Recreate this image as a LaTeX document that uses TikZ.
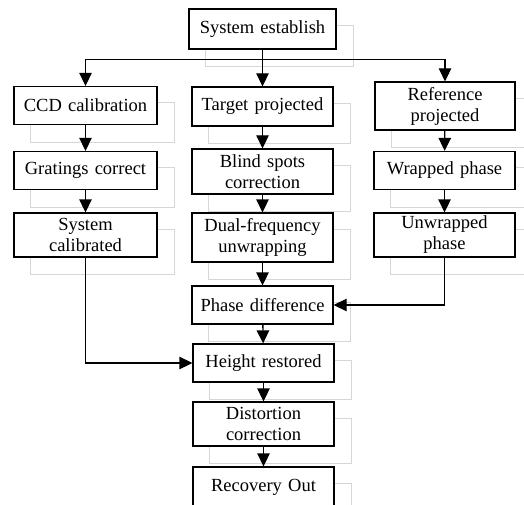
\documentclass[tikz,border=0pt]{standalone}
\usepackage{fontspec}
\setmainfont{Liberation Serif}
\usepackage{tikz}
\usetikzlibrary{positioning,arrows.meta,calc,backgrounds}

\tikzset{stepbox/.style={draw,fill=white,line width=1.3pt,text width=135pt,align=center,
    inner sep=3pt,minimum height=38pt,font=\fontsize{18.5}{21}\selectfont},
  flow/.style={line width=1.3pt,-{Triangle[length=13pt,width=12.5pt]}},
  ghost/.style={draw=black!16,line width=0.7pt}}

\begin{document}
\begin{tikzpicture}[x=1pt,y=-1pt]
\useasboundingbox (0,0) rectangle (524,505);
\clip (0,0) rectangle (524,505);

%top
\node[stepbox,text width=141pt,minimum height=40pt] (sys) at (262.5,29) {System establish};

%left column
\node[stepbox,text width=137pt] (ccd) at (85.5,105.5) {CCD calibration};
\node[stepbox,text width=137pt] (grat) at (85.5,170.5) {Gratings correct};
\node[stepbox,text width=137pt,minimum height=44pt] (syscal) at (85.5,235) {System\\calibrated};

%middle column
\node[stepbox,minimum height=39pt] (tgt) at (262.5,106.5) {Target projected};
\node[stepbox,minimum height=45pt] (blind) at (262.5,171.5) {Blind spots\\correction};
\node[stepbox,minimum height=49pt] (dual) at (262.5,237.5) {Dual-frequency\\unwrapping};
\node[stepbox] (phase) at (262.5,305) {Phase difference};
\node[stepbox] (height) at (263.5,363) {Height restored};
\node[stepbox,minimum height=44pt] (dist) at (263.5,424) {Distortion\\correction};
\node[stepbox,minimum height=40pt] (out) at (263.5,487) {Recovery Out};

%right column
\node[stepbox,text width=134pt,minimum height=48pt] (ref) at (445,106) {Reference\\projected};
\node[stepbox,text width=135pt] (wrap) at (444.5,170.5) {Wrapped phase};
\node[stepbox,text width=135pt,minimum height=44pt] (unwrap) at (444.5,235) {Unwrapped\\phase};

% faint copies behind the boxes
\begin{scope}[on background layer]
\foreach \n in {sys,ccd,grat,syscal,tgt,blind,dual,phase,height,dist,out,ref,wrap,unwrap}
  \draw[ghost] ([shift={(17,17)}]\n.north west) rectangle ([shift={(17,17)}]\n.south east);
\end{scope}

\coordinate (fork) at ($(sys.south)+(0,10)$);
\draw[flow] (sys.south) -- (tgt.north);
\draw[flow] (fork) -| (ccd.north);
\draw[flow] (fork) -| (ref.north);

\draw[flow] (ccd) -- (grat);
\draw[flow] (grat) -- (syscal);
\draw[flow] (syscal.south) |- (height.west);

\draw[flow] (tgt) -- (blind);
\draw[flow] (blind) -- (dual);
\draw[flow] (dual) -- (phase);
\draw[flow] (phase) -- (height);
\draw[flow] (height) -- (dist);
\draw[flow] (dist) -- (out);

\draw[flow] (ref) -- (wrap);
\draw[flow] (wrap) -- (unwrap);
\draw[flow] (unwrap.south) |- (phase.east);
\end{tikzpicture}
\end{document}
